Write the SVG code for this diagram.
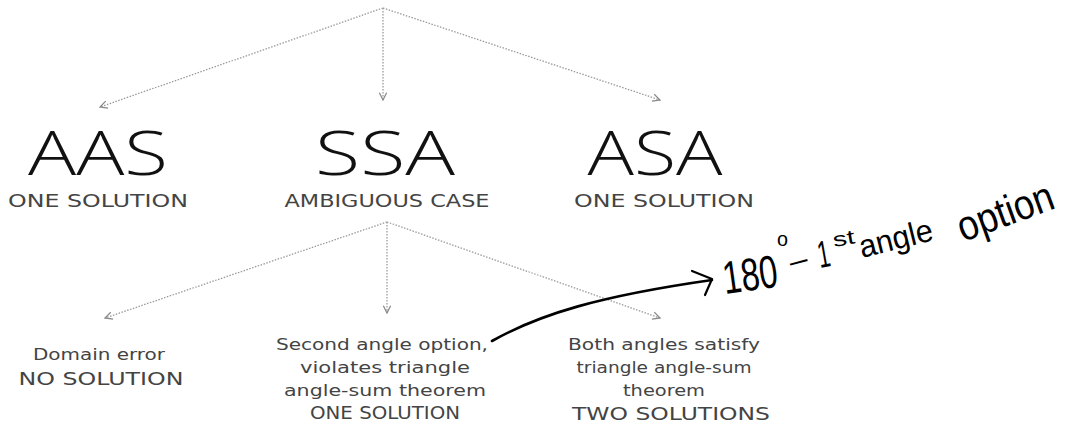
<svg xmlns="http://www.w3.org/2000/svg" width="1076" height="432" viewBox="0 0 1076 432">
<style>
.big{font-family:"Open Sans","Liberation Sans","DejaVu Sans",sans-serif;font-weight:300;font-size:60px;fill:#111;text-anchor:middle}
.cap{font-family:"DejaVu Sans","Liberation Sans",sans-serif;font-size:17px;fill:#444;text-anchor:middle}
.sm{font-family:"DejaVu Sans","Liberation Sans",sans-serif;font-size:16px;fill:#444;text-anchor:middle}
.hw{font-family:"Liberation Sans","DejaVu Sans",sans-serif;fill:#000}
.conn{stroke:#9a9a9a;stroke-width:1.3;stroke-dasharray:1.5 1.5;fill:none}
</style>
<defs>
<marker id="ah" viewBox="0 0 10 10" refX="9" refY="5" markerWidth="7" markerHeight="7" orient="auto">
<path d="M1,1 L9,5 L1,9" fill="none" stroke="#8a8a8a" stroke-width="1.4"/>
</marker>
</defs>
<rect width="1076" height="432" fill="#fff"/>
<g id="connectors">
<path class="conn" d="M383,8 L100,107" marker-end="url(#ah)"/>
<path class="conn" d="M383,8 L383,100" marker-end="url(#ah)"/>
<path class="conn" d="M383,8 L660,100" marker-end="url(#ah)"/>
<path class="conn" d="M387,222 L105,318" marker-end="url(#ah)"/>
<path class="conn" d="M387,222 L387,313" marker-end="url(#ah)"/>
<path class="conn" d="M387,222 L660,318" marker-end="url(#ah)"/>
<path d="M492,341 C540,314 600,296 712,280" fill="none" stroke="#000" stroke-width="2.6" stroke-linecap="round"/>
<path d="M692,271 L712,279 L705,295" fill="none" stroke="#000" stroke-width="2.2" stroke-linecap="round" stroke-linejoin="round"/>
</g>
<g id="aas">
<text class="big" x="98" y="175" textLength="140" lengthAdjust="spacingAndGlyphs">AAS</text>
<text class="cap" x="98" y="207" textLength="180" lengthAdjust="spacingAndGlyphs">ONE SOLUTION</text>
</g>
<g id="ssa">
<text class="big" x="385" y="175" textLength="140" lengthAdjust="spacingAndGlyphs">SSA</text>
<text class="cap" x="387" y="207" textLength="205" lengthAdjust="spacingAndGlyphs">AMBIGUOUS CASE</text>
</g>
<g id="asa">
<text class="big" x="655" y="175" textLength="135" lengthAdjust="spacingAndGlyphs">ASA</text>
<text class="cap" x="664" y="207" textLength="180" lengthAdjust="spacingAndGlyphs">ONE SOLUTION</text>
</g>
<g id="domain">
<text class="sm" x="99" y="360" textLength="132" lengthAdjust="spacingAndGlyphs">Domain error</text>
<text class="cap" x="101" y="385" textLength="165" lengthAdjust="spacingAndGlyphs">NO SOLUTION</text>
</g>
<g id="second">
<text class="sm" x="382" y="350" textLength="212" lengthAdjust="spacingAndGlyphs">Second angle option,</text>
<text class="sm" x="385" y="373" textLength="170" lengthAdjust="spacingAndGlyphs">violates triangle</text>
<text class="sm" x="385" y="396" textLength="202" lengthAdjust="spacingAndGlyphs">angle-sum theorem</text>
<text class="cap" x="385" y="419" textLength="150" lengthAdjust="spacingAndGlyphs">ONE SOLUTION</text>
</g>
<g id="both">
<text class="sm" x="664" y="350" textLength="192" lengthAdjust="spacingAndGlyphs">Both angles satisfy</text>
<text class="sm" x="664" y="373" textLength="175" lengthAdjust="spacingAndGlyphs">triangle angle-sum</text>
<text class="sm" x="664" y="396" textLength="82" lengthAdjust="spacingAndGlyphs">theorem</text>
<text class="cap" x="671" y="420" textLength="198" lengthAdjust="spacingAndGlyphs">TWO SOLUTIONS</text>
</g>
<g id="note">
<text class="hw" x="725" y="294" font-size="46" textLength="55" lengthAdjust="spacingAndGlyphs" transform="rotate(-8 725 294)">180</text>
<text class="hw" x="777" y="246" font-size="20" textLength="11" lengthAdjust="spacingAndGlyphs">o</text>
<text class="hw" x="792" y="272" font-size="30" textLength="18" lengthAdjust="spacingAndGlyphs" transform="rotate(-15 792 272)">–</text>
<text class="hw" x="820" y="268" font-size="38" textLength="12" lengthAdjust="spacingAndGlyphs" transform="rotate(-10 820 268)">1</text>
<text class="hw" x="834" y="247" font-size="20" textLength="22" lengthAdjust="spacingAndGlyphs" transform="rotate(-10 834 247)">st</text>
<text class="hw" x="862" y="258" font-size="32" textLength="75" lengthAdjust="spacingAndGlyphs" transform="rotate(-14 862 258)">angle</text>
<text class="hw" x="963" y="242" font-size="42" textLength="100" lengthAdjust="spacingAndGlyphs" transform="rotate(-20 963 242)">option</text>
</g>
</svg>
